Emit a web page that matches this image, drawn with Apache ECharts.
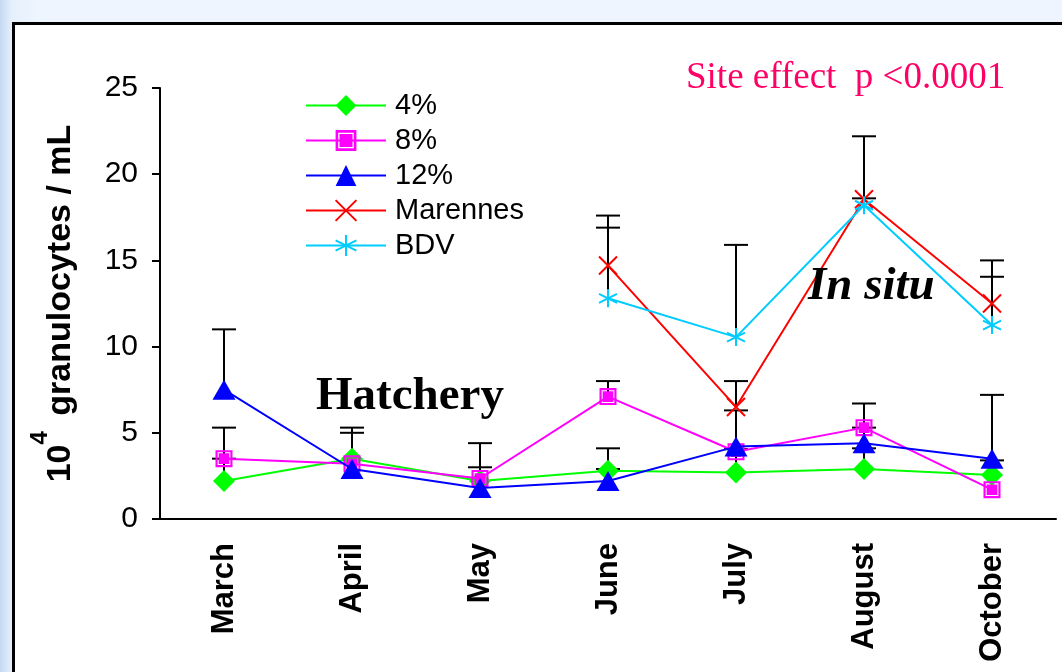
<!DOCTYPE html>
<html>
<head>
<meta charset="utf-8">
<script src="https://cdn.jsdelivr.net/npm/echarts@6/dist/echarts.min.js"></script>
<style>
html,body{margin:0;padding:0;width:1062px;height:672px;overflow:hidden;}
body{background:linear-gradient(to right,#c4d8f3 0px,#e6f0fc 12px,#eef5fe 40px,#eef5fe 100%);position:relative;}
#panel{position:absolute;left:12px;top:22px;width:1100px;height:700px;background:#fff;border:3px solid #000;box-sizing:border-box;}
#chart{position:absolute;left:0;top:0;width:1062px;height:672px;}
</style>
</head>
<body>
<div id="panel"></div>
<div id="chart"></div>
<script>
const months = ['March','April','May','June','July','August','October'];
const yTicks = [0, 5, 10, 15, 20, 25];

const s4 = [2.2, 3.5, 2.2, 2.8, 2.7, 2.9, 2.55];
const s8 = [3.5, 3.2, 2.35, 7.1, 3.9, 5.3, 1.7];
const s12 = [7.5, 2.9, 1.8, 2.2, 4.2, 4.4, 3.5];
const marennes = [null, null, null, 14.7, 6.5, 18.55, 12.5];
const bdv = [null, null, null, 12.8, 10.55, 18.2, 11.25];

const err4 = [3.5, 5.0, 3.0, 4.1, 4.05, 4.1, 3.4];
const err8 = [5.3, 5.3, 4.4, 8.0, null, 6.7, null];
const err12 = [11.0, null, null, 2.9, 6.3, 5.3, 7.2];
const errMarennes = [null, null, null, 17.6, 8.0, 22.2, 15.0];
const errBdv = [null, null, null, 16.9, 15.9, 18.6, 14.05];

const seriesNames = ['4%', '8%', '12%', 'Marennes', 'BDV'];

const FONT = 'Liberation Sans, Arial, sans-serif';
const SERIF = 'Liberation Serif, Times New Roman, serif';

function errData(vals, tops) {
  const out = [];
  vals.forEach((v, i) => { if (v != null && tops[i] != null) out.push([i, v, tops[i]]); });
  return out;
}
const allErr = [].concat(errData(s4, err4), errData(s8, err8), errData(s12, err12),
  errData(marennes, errMarennes), errData(bdv, errBdv));

const squarePath = 'path://M0,0L16,0L16,16L0,16Z M2,2L2,14L14,14L14,2Z M3,3L13,3L13,13L3,13Z';
const crossPath = 'path://M0,0L10,10M10,0L0,10';
const starPath = 'path://M5,0L5,10M0.7,2.5L9.3,7.5M0.7,7.5L9.3,2.5';

const chart = echarts.init(document.getElementById('chart'));
chart.setOption({
  animation: false,
  backgroundColor: 'transparent',
  grid: { left: 160, right: 6, top: 88, bottom: 153, containLabel: false },
  legend: {
    orient: 'vertical', left: 305, top: 91, padding: 0,
    itemWidth: 80, itemHeight: 26, itemGap: 6,
    textStyle: { fontFamily: FONT, fontSize: 29, color: '#000', padding: [0, 0, 0, 4] },
    data: seriesNames
  },
  xAxis: {
    type: 'category', data: months, boundaryGap: true,
    axisLine: { lineStyle: { color: '#000', width: 2 } },
    axisTick: { length: 8, lineStyle: { color: '#000', width: 2 } },
    axisLabel: { rotate: 90, margin: 24, fontFamily: FONT, fontWeight: 'bold', fontSize: 31, color: '#000' },
    splitLine: { show: false }
  },
  yAxis: {
    type: 'value', min: yTicks[0], max: yTicks[yTicks.length - 1], interval: 5,
    axisLine: { show: true, lineStyle: { color: '#000', width: 2 } },
    axisTick: { show: true, length: 8, lineStyle: { color: '#000', width: 2 } },
    axisLabel: { margin: 22, fontFamily: FONT, fontSize: 30, color: '#000' },
    splitLine: { show: false },
    name: '{a|10}{b|4}{c| granulocytes / mL}',
    nameLocation: 'middle', nameRotate: 90, nameGap: 82,
    nameTextStyle: {
      rich: {
        a: { fontFamily: FONT, fontWeight: 'bold', fontSize: 34, color: '#000', lineHeight: 50, verticalAlign: 'bottom' },
        b: { fontFamily: FONT, fontWeight: 'bold', fontSize: 24, color: '#000', lineHeight: 50, verticalAlign: 'top', padding: [0, 6, 0, 0] },
        c: { fontFamily: FONT, fontWeight: 'bold', fontSize: 34, color: '#000', lineHeight: 50, verticalAlign: 'bottom' }
      }
    }
  },
  graphic: [
    { type: 'text', left: 686, top: 60, z: 10,
      style: { text: 'Site effect  p <0.0001', fontFamily: SERIF, fontSize: 37, fill: '#ff0066' } },
    { type: 'text', left: 316, top: 373, z: 10,
      style: { text: 'Hatchery', fontFamily: SERIF, fontSize: 47, fontWeight: 'bold', fill: '#000' } },
    { type: 'text', left: 808, top: 263, z: 10,
      style: { text: 'In situ', fontFamily: SERIF, fontSize: 47, fontWeight: 'bold', fontStyle: 'italic', fill: '#000' } }
  ],
  series: [
    {
      type: 'custom', name: 'err', z: 1, silent: true, legendHoverLink: false,
      data: allErr,
      renderItem: function (params, api) {
        const p0 = api.coord([api.value(0), api.value(1)]);
        const p1 = api.coord([api.value(0), api.value(2)]);
        const w = 12;
        return { type: 'group', children: [
          { type: 'line', shape: { x1: p0[0], y1: p0[1], x2: p1[0], y2: p1[1] }, style: { stroke: '#000', lineWidth: 2 } },
          { type: 'line', shape: { x1: p1[0] - w, y1: p1[1], x2: p1[0] + w, y2: p1[1] }, style: { stroke: '#000', lineWidth: 2 } }
        ] };
      }
    },
    {
      name: '4%', type: 'line', data: s4, z: 2,
      symbol: 'diamond', symbolSize: 22,
      lineStyle: { color: '#00ff00', width: 2 },
      itemStyle: { color: '#00ff00' }
    },
    {
      name: '8%', type: 'line', data: s8, z: 3,
      symbol: squarePath, symbolSize: 17,
      lineStyle: { color: '#ff00ff', width: 2 },
      itemStyle: { color: '#ff00ff' }
    },
    {
      name: '12%', type: 'line', data: s12, z: 4,
      symbol: 'triangle', symbolSize: [23, 20],
      lineStyle: { color: '#0000ff', width: 2 },
      itemStyle: { color: '#0000ff' }
    },
    {
      name: 'Marennes', type: 'line', data: marennes, z: 5,
      symbol: crossPath, symbolSize: 18,
      lineStyle: { color: '#ff0000', width: 2 },
      itemStyle: { color: 'none', borderColor: '#ff0000', borderWidth: 2 }
    },
    {
      name: 'BDV', type: 'line', data: bdv, z: 6,
      symbol: starPath, symbolSize: 18,
      lineStyle: { color: '#00ccff', width: 2 },
      itemStyle: { color: 'none', borderColor: '#00ccff', borderWidth: 2 }
    }
  ]
});
</script>
</body>
</html>
